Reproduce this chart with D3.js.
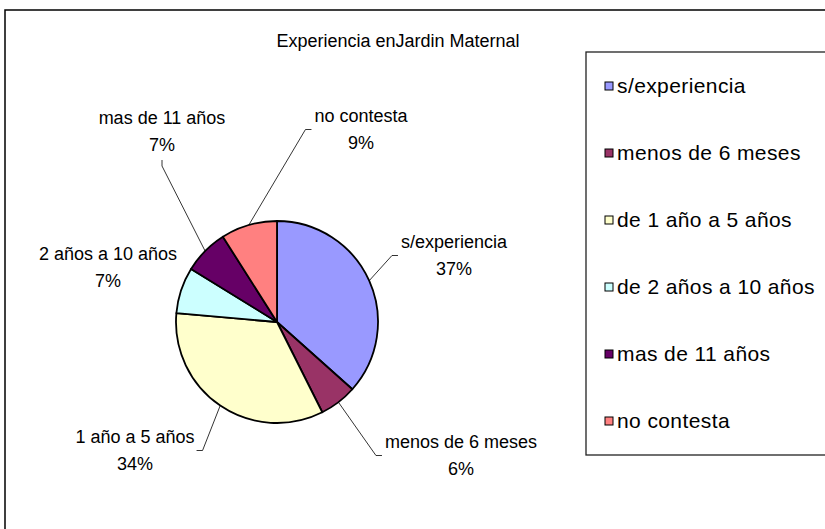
<!DOCTYPE html>
<html>
<head>
<meta charset="utf-8">
<script src="https://cdnjs.cloudflare.com/ajax/libs/d3/7.8.5/d3.min.js"></script>
<style>
body { margin: 0; background: #fff; }
text { font-family: "Liberation Sans", Arial, sans-serif; fill: #000; }
</style>
</head>
<body>
<div id="chart"></div>
<script>
// pie of teachers' experience in Jardin Maternal
var TITLE = "Experiencia enJardin Maternal";
var CATEGORIES = ["s/experiencia", "menos de 6 meses", "de 1 año a 5 años",
                  "de 2 años a 10 años", "mas de 11 años", "no contesta"];
var SLICE_LABELS = ["s/experiencia", "menos de 6 meses", "1 año a 5 años",
                    "2 años a 10 años", "mas de 11 años", "no contesta"];
var VALUES = [36.6, 6.0, 33.8, 7.4, 7.2, 9.0];
var COLORS = ["#9999FF", "#993366", "#FFFFCC", "#CCFFFF", "#660066", "#FF8080"];

var width = 825, height = 529;
var cx = 277, cy = 322, radius = 101;

// where each data label sits (relative to pie centre) and which side the leader joins
var labelOffset = [[177, -67], [184, 133], [-142, 128], [-169, -55], [-115, -191], [84, -193]];
var labelJoin = ["left", "left", "right", "none", "bottom", "left"];

var svg = d3.select("#chart").append("svg")
    .attr("width", width).attr("height", height);

// chart area frame (runs past the right/bottom edge like the screenshot)
svg.append("rect")
    .attr("x", 5).attr("y", 10)
    .attr("width", 840).attr("height", 540)
    .attr("fill", "#fff").attr("stroke", "#000").attr("stroke-width", 1.5);

svg.append("text")
    .attr("x", 398).attr("y", 47)
    .attr("text-anchor", "middle")
    .style("font-size", "18px")
    .text(TITLE);

var total = d3.sum(VALUES);
var pct = d3.format(".0%");

var pie = d3.pie().sort(null).value(function(d) { return d; });
var arcs = pie(VALUES);
var arc = d3.arc().innerRadius(0).outerRadius(radius);
var edge = d3.arc().innerRadius(radius).outerRadius(radius);

var g = svg.append("g").attr("transform", "translate(" + cx + "," + cy + ")");

g.selectAll(".slice")
    .data(arcs)
  .enter().append("path")
    .attr("class", "slice")
    .attr("d", arc)
    .attr("fill", function(d, i) { return COLORS[i]; })
    .attr("stroke", "#000")
    .attr("stroke-width", 1.8)
    .attr("stroke-linejoin", "round");

// data labels
var labels = g.selectAll(".lbl")
    .data(arcs)
  .enter().append("text")
    .attr("class", "lbl")
    .attr("text-anchor", "middle")
    .style("font-size", "18px")
    .attr("transform", function(d, i) { return "translate(" + labelOffset[i][0] + "," + labelOffset[i][1] + ")"; });

labels.append("tspan").attr("x", 0).attr("y", -7)
    .text(function(d, i) { return SLICE_LABELS[i]; });
labels.append("tspan").attr("x", 0).attr("y", 20)
    .text(function(d) { return pct(d.value / total); });

// leader lines from arc midpoint to label box
labels.each(function(d, i) {
    if (labelJoin[i] == "none") return;
    var b = this.getBBox();
    var ox = labelOffset[i][0], oy = labelOffset[i][1];
    var x0 = ox + b.x, x1 = ox + b.x + b.width;
    var ym = oy + b.y + b.height / 2;
    var p = edge.centroid(d);
    var pts;
    if (labelJoin[i] == "left")
        pts = [p, [x0 - 9, ym], [x0 - 3, ym]];
    else if (labelJoin[i] == "right")
        pts = [p, [x1 + 8, ym], [x1 + 2, ym]];
    else
        pts = [p, [ox, oy + b.y + b.height + 11], [ox, oy + b.y + b.height + 5]];
    g.append("path")
        .attr("d", d3.line()(pts))
        .attr("fill", "none")
        .attr("stroke", "#000")
        .attr("stroke-width", 0.8);
});

// legend
var legX = 586, legY = 52;
svg.append("rect")
    .attr("x", legX).attr("y", legY)
    .attr("width", 260).attr("height", 403)
    .attr("fill", "#fff").attr("stroke", "#222").attr("stroke-width", 1.3);

var legScale = d3.scalePoint().domain(CATEGORIES).range([86, 421]);

var items = svg.selectAll(".leg")
    .data(CATEGORIES)
  .enter().append("g")
    .attr("class", "leg")
    .attr("transform", function(d) { return "translate(" + 605 + "," + legScale(d) + ")"; });

items.append("rect")
    .attr("x", 0).attr("y", -4)
    .attr("width", 8).attr("height", 8)
    .attr("fill", function(d, i) { return COLORS[i]; })
    .attr("stroke", "#000").attr("stroke-width", 1);

items.append("text")
    .attr("x", 12).attr("y", 7)
    .style("font-size", "21px")
    .style("letter-spacing", "0.4px")
    .text(function(d) { return d; });
</script>
</body>
</html>
